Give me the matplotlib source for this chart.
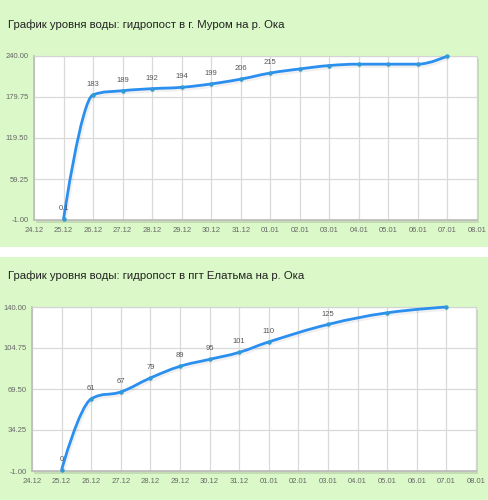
import numpy as np
import matplotlib
matplotlib.use('Agg')
import matplotlib.pyplot as plt
from matplotlib.path import Path
from matplotlib.patches import PathPatch, Rectangle
import matplotlib.transforms as mtransforms

plt.rcParams['font.family'] = ['Liberation Sans', 'DejaVu Sans']

# Подписи оси X (даты)
dates = ['24.12', '25.12', '26.12', '27.12', '28.12', '29.12', '30.12', '31.12',
         '01.01', '02.01', '03.01', '04.01', '05.01', '06.01', '07.01', '08.01']

# Муром
murom_dates = ['25.12', '26.12', '27.12', '28.12', '29.12', '30.12', '31.12',
               '01.01', '02.01', '03.01', '04.01', '05.01', '06.01', '07.01']
murom_level = [0.1, 183, 189, 192, 194, 199, 206, 215, 221, 226, 228, 228, 228, 240]
murom_labeled = ['25.12', '26.12', '27.12', '28.12', '29.12', '30.12', '31.12', '01.01']
murom_yticks = [-1.00, 59.25, 119.50, 179.75, 240.00]

# Елатьма
elatma_dates = ['25.12', '26.12', '27.12', '28.12', '29.12', '30.12', '31.12',
                '01.01', '03.01', '05.01', '07.01']
elatma_level = [0, 61, 67, 79, 89, 95, 101, 110, 125, 135, 140]
elatma_labeled = ['25.12', '26.12', '27.12', '28.12', '29.12', '30.12', '31.12', '01.01', '03.01']
elatma_yticks = [-1.00, 34.25, 69.50, 104.75, 140.00]

BG = '#dbf9c8'
LINE = '#2b8ff0'
MARK = '#2f9ad4'


def spline_path(xs, ys, smoothing=1.5):
    # сглаженная линия как в highcharts (кривые Безье)
    n = len(xs)
    lc = [(xs[i], ys[i]) for i in range(n)]
    rc = [(xs[i], ys[i]) for i in range(n)]
    denom = smoothing + 1
    for i in range(1, n - 1):
        px, py = xs[i], ys[i]
        lx, ly = xs[i - 1], ys[i - 1]
        nx, ny = xs[i + 1], ys[i + 1]
        lcx = (smoothing * px + lx) / denom
        lcy = (smoothing * py + ly) / denom
        rcx = (smoothing * px + nx) / denom
        rcy = (smoothing * py + ny) / denom
        if rcx != lcx:
            corr = ((rcy - lcy) * (rcx - px)) / (rcx - lcx) + py - rcy
            lcy += corr
            rcy += corr
        if lcy > ly and lcy > py:
            lcy = max(ly, py)
            rcy = 2 * py - lcy
        elif lcy < ly and lcy < py:
            lcy = min(ly, py)
            rcy = 2 * py - lcy
        if rcy > ny and rcy > py:
            rcy = max(ny, py)
            lcy = 2 * py - rcy
        elif rcy < ny and rcy < py:
            rcy = min(ny, py)
            lcy = 2 * py - rcy
        lc[i] = (lcx, lcy)
        rc[i] = (rcx, rcy)
    verts = [(xs[0], ys[0])]
    codes = [Path.MOVETO]
    for i in range(1, n):
        verts += [rc[i - 1], lc[i], (xs[i], ys[i])]
        codes += [Path.CURVE4] * 3
    return Path(verts, codes)


def draw_chart(fig, rect, title, title_y, xs_lbl, vals, labeled, yticks):
    ax = fig.add_axes(rect)
    xs = [dates.index(d) for d in xs_lbl]

    # тень области графика
    shadow = Rectangle((rect[0] + 0.004, rect[1] - 0.005), rect[2], rect[3],
                       transform=fig.transFigure, facecolor='#c4dcb4',
                       edgecolor='none', zorder=-0.5)
    fig.patches.append(shadow)

    ax.set_facecolor('white')
    ax.set_xlim(0, len(dates) - 1)
    ax.set_ylim(yticks[0], yticks[-1])
    ax.set_xticks(range(len(dates)))
    ax.set_xticklabels(dates)
    ax.set_yticks(yticks)
    ax.set_yticklabels([f'{t:.2f}' for t in yticks])
    ax.tick_params(labelsize=5.5, colors='#666666', length=0)
    ax.tick_params(axis='x', pad=5)
    ax.tick_params(axis='y', pad=4)
    ax.grid(True, color='#d9d9d9', linewidth=0.9)
    ax.set_axisbelow(True)
    for s in ax.spines.values():
        s.set_color('#d4d4d4')
        s.set_linewidth(0.8)
    ax.spines['left'].set_color('#bbbbbb')
    ax.spines['bottom'].set_color('#bbbbbb')
    ax.spines['left'].set_linewidth(1.2)
    ax.spines['bottom'].set_linewidth(1.2)

    path = spline_path(xs, vals)
    sh_tr = mtransforms.offset_copy(ax.transData, fig=fig, x=0.8, y=-1.2, units='points')
    ax.add_patch(PathPatch(path, facecolor='none', edgecolor='#000000', alpha=0.06,
                           linewidth=3.0, transform=sh_tr, clip_on=False))
    ax.add_patch(PathPatch(path, facecolor='none', edgecolor=LINE, linewidth=2.0,
                           clip_on=False, zorder=3))
    ax.scatter(xs, vals, s=10, color=MARK, zorder=4, clip_on=False, linewidths=0)

    for x, v, d in zip(xs, vals, xs_lbl):
        if d in labeled:
            txt = f'{v:g}'
            ax.annotate(txt, (x, v), xytext=(0, 5), textcoords='offset points',
                        ha='center', va='bottom', fontsize=5.5, color='#555555')

    fig.text(8 / 488, title_y, title, fontsize=8.2, color='#222222',
             ha='left', va='center')
    return ax


fig = plt.figure(figsize=(4.88, 5.00), dpi=100)
fig.patch.set_facecolor('white')

# зелёные подложки
fig.patches.append(Rectangle((0, 1 - 247 / 500), 1, 247 / 500, transform=fig.transFigure,
                             facecolor=BG, edgecolor='none', zorder=-1))
fig.patches.append(Rectangle((0, 0), 1, 243 / 500, transform=fig.transFigure,
                             facecolor=BG, edgecolor='none', zorder=-1))

draw_chart(fig, [34 / 488, 1 - 220 / 500, 443 / 488, 164 / 500],
           'График уровня воды: гидропост в г. Муром на р. Ока', 1 - 25 / 500,
           murom_dates, murom_level, murom_labeled, murom_yticks)

draw_chart(fig, [32 / 488, 1 - 471 / 500, 444 / 488, 164 / 500],
           'График уровня воды: гидропост в пгт Елатьма на р. Ока', 1 - 276 / 500,
           elatma_dates, elatma_level, elatma_labeled, elatma_yticks)

fig.savefig('out.png', dpi=100, facecolor=fig.get_facecolor())
